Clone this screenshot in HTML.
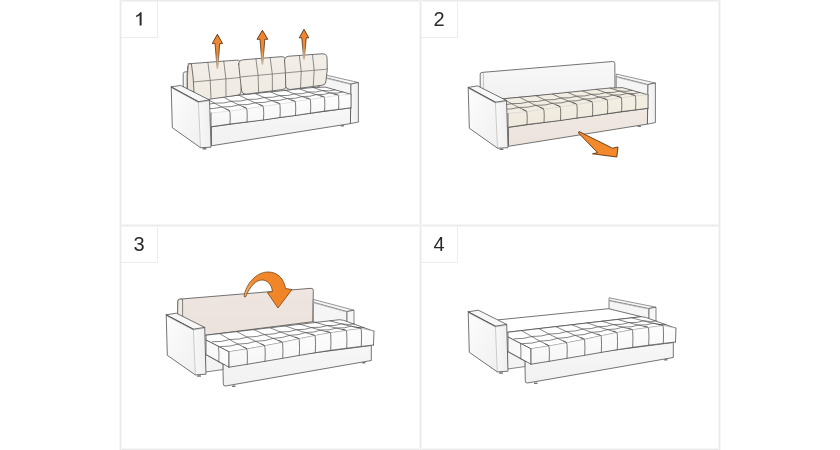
<!DOCTYPE html>
<html><head><meta charset="utf-8">
<style>
html,body{margin:0;padding:0;background:#fff;width:840px;height:450px;overflow:hidden;}
body{position:relative;font-family:"Liberation Sans",sans-serif;}
.g{position:absolute;background:#eaeaea;}
.gv{box-shadow:-1px 0 0 #f6f6f6,1px 0 0 #f6f6f6;}
.gh{box-shadow:0 -1px 0 #f6f6f6,0 1px 0 #f6f6f6;}
.nb{position:absolute;width:37px;height:37px;box-sizing:border-box;border-right:1px solid #ededed;border-bottom:1px solid #ededed;font-size:20px;line-height:37px;text-align:center;color:#2a2a2a;will-change:transform;}
svg{position:absolute;left:0;top:0;}
</style></head><body>
<div class="g gh" style="left:120px;top:0;width:600px;height:1px"></div>
<div class="g gh" style="left:120px;top:225px;width:600px;height:1px"></div>
<div class="g gh" style="left:120px;top:449px;width:600px;height:1px"></div>
<div class="g gv" style="left:120px;top:0;width:1px;height:450px"></div>
<div class="g gv" style="left:420px;top:0;width:1px;height:450px"></div>
<div class="g gv" style="left:719px;top:0;width:1px;height:450px"></div>
<div class="nb" style="left:121px;top:1px"></div>
<div class="nb" style="left:421px;top:1px">2</div>
<div class="nb" style="left:121px;top:226px">3</div>
<div class="nb" style="left:421px;top:226px">4</div>
<svg width="840" height="450" viewBox="0 0 840 450">
<path d="M139.6,25.6 L139.6,15.2 Q138.4,16.4 136.2,17.3 L136.2,15.6 Q138.9,14.3 140.2,12.2 L141.6,12.2 L141.6,25.6 Z" fill="#2a2a2a"/>
<defs>
<linearGradient id="gside" x1="0" y1="0" x2="1" y2="1"><stop offset="0" stop-color="#fdfdfd"/><stop offset="1" stop-color="#f0f0f0"/></linearGradient>
<linearGradient id="gside2" x1="0" y1="0" x2="1" y2="0"><stop offset="0" stop-color="#f7f7f7"/><stop offset="1" stop-color="#fdfdfd"/></linearGradient>
<linearGradient id="gfront" x1="0" y1="0" x2="1" y2="0"><stop offset="0" stop-color="#f8f8f8"/><stop offset="1" stop-color="#efefef"/></linearGradient>
<linearGradient id="gback" x1="0" y1="0" x2="0" y2="1"><stop offset="0" stop-color="#f8f8f8"/><stop offset="1" stop-color="#f1f1f1"/></linearGradient>
<linearGradient id="gbase" x1="0" y1="0" x2="0" y2="1"><stop offset="0" stop-color="#f7f7f7"/><stop offset="1" stop-color="#f1f1f1"/></linearGradient>
<linearGradient id="gbaseb" x1="0" y1="0" x2="0" y2="1"><stop offset="0" stop-color="#f0e8e2"/><stop offset="1" stop-color="#ece3dd"/></linearGradient>
<linearGradient id="gtuft" x1="0" y1="0" x2="0" y2="1"><stop offset="0" stop-color="#fdfdfd"/><stop offset="1" stop-color="#f6f6f6"/></linearGradient>
<linearGradient id="gtuftb" x1="0" y1="0" x2="0" y2="1"><stop offset="0" stop-color="#f4efe4"/><stop offset="1" stop-color="#efe9dc"/></linearGradient>
<linearGradient id="gcush" x1="0" y1="0" x2="0" y2="1"><stop offset="0" stop-color="#f3efe8"/><stop offset="1" stop-color="#efeae2"/></linearGradient>
<linearGradient id="gpanel" x1="0" y1="0" x2="0" y2="1"><stop offset="0" stop-color="#f0e8e2"/><stop offset="0.08" stop-color="#eee5e0"/><stop offset="1" stop-color="#ece2dc"/></linearGradient>
<linearGradient id="gar" x1="0" y1="0" x2="0" y2="1"><stop offset="0" stop-color="#f0832a"/><stop offset="0.6" stop-color="#ee8c3c"/><stop offset="1" stop-color="#e8d0b8"/></linearGradient>
<linearGradient id="garS" x1="0" y1="0" x2="0" y2="1"><stop offset="0" stop-color="#4a2c12"/><stop offset="0.55" stop-color="#6e4a28"/><stop offset="1" stop-color="#c8b8a8"/></linearGradient>
<linearGradient id="gcurve" x1="0" y1="0" x2="1" y2="0"><stop offset="0" stop-color="#f3b27a"/><stop offset="0.2" stop-color="#f08a2c"/><stop offset="1" stop-color="#f08326"/></linearGradient>
</defs>
<path d="M183.20,100.00 L183.20,73.60 Q183.20,72.10 185.00,71.90 L315.50,61.00 Q317.80,60.90 317.80,63.00 L318.00,88.00 Z" fill="url(#gback)" stroke="#505050" stroke-width="0.8" stroke-linejoin="round" stroke-linecap="round" />
<line x1="186.40" y1="73.00" x2="186.40" y2="98.00" stroke="#9a9a9a" stroke-width="0.6" stroke-linecap="round" />
<polygon points="319.20,76.00 351.00,84.00 351.00,95.00 319.20,88.50" fill="#f5f5f5" stroke="#505050" stroke-width="0.7" stroke-linejoin="round" />
<polygon points="319.20,73.50 358.40,82.50 351.00,84.00 319.20,76.00" fill="#f6f6f6" stroke="#505050" stroke-width="0.6" stroke-linejoin="round" />
<line x1="319.20" y1="76.60" x2="351.00" y2="84.60" stroke="#bbb" stroke-width="0.9" stroke-linecap="round" />
<polygon points="351.00,84.00 358.40,82.50 358.40,122.10 350.40,123.60" fill="url(#gfront)" stroke="#505050" stroke-width="0.75" stroke-linejoin="round" />
<polygon points="211.50,126.80 350.60,107.80 350.40,123.60 211.50,145.80" fill="url(#gbase)" stroke="#505050" stroke-width="0.8" stroke-linejoin="round" />
<rect x="340.50" y="125.00" width="3.5" height="1.5" rx="0.5" fill="#777"/>
<polygon points="187.00,99.50 205.77,98.36 222.56,96.72 238.86,95.16 255.16,93.51 270.47,91.90 285.29,90.38 299.22,88.81 313.05,87.54 325.30,87.10 351.00,94.30 338.60,95.30 324.60,97.20 310.50,99.40 295.50,101.60 280.00,103.90 263.50,106.30 247.00,108.60 230.00,111.00 211.00,113.00" fill="#fff" stroke="none" stroke-width="0" stroke-linejoin="round" />
<path d="M187.00,99.50 L205.77,98.36 L222.56,96.72 L238.86,95.16 L255.16,93.51 L270.47,91.90 L285.29,90.38 L299.22,88.81 L313.05,87.54 L325.30,87.10 L351.00,94.30" fill="none" stroke="#505050" stroke-width="0.8" stroke-linejoin="round" stroke-linecap="round" />
<path d="M205.77,98.36 Q217.28,105.08 230.00,111.00" fill="none" stroke="#505050" stroke-width="0.7" stroke-linejoin="round" stroke-linecap="round" />
<path d="M222.56,96.72 Q234.18,103.06 247.00,108.60" fill="none" stroke="#505050" stroke-width="0.7" stroke-linejoin="round" stroke-linecap="round" />
<path d="M238.86,95.16 Q250.58,101.13 263.50,106.30" fill="none" stroke="#505050" stroke-width="0.7" stroke-linejoin="round" stroke-linecap="round" />
<path d="M255.16,93.51 Q266.98,99.10 280.00,103.90" fill="none" stroke="#505050" stroke-width="0.7" stroke-linejoin="round" stroke-linecap="round" />
<path d="M270.47,91.90 Q282.39,97.15 295.50,101.60" fill="none" stroke="#505050" stroke-width="0.7" stroke-linejoin="round" stroke-linecap="round" />
<path d="M285.29,90.38 Q297.30,95.29 310.50,99.40" fill="none" stroke="#505050" stroke-width="0.7" stroke-linejoin="round" stroke-linecap="round" />
<path d="M299.22,88.81 Q311.31,93.41 324.60,97.20" fill="none" stroke="#505050" stroke-width="0.7" stroke-linejoin="round" stroke-linecap="round" />
<path d="M313.05,87.54 Q325.23,91.82 338.60,95.30" fill="none" stroke="#505050" stroke-width="0.7" stroke-linejoin="round" stroke-linecap="round" />
<path d="M196.12,104.63 Q206.35,105.40 214.98,103.16 Q224.21,103.70 231.85,101.23 Q240.84,101.81 248.22,99.39 Q257.21,99.92 264.60,97.46 Q273.09,98.02 279.98,95.59 Q288.23,96.20 294.87,93.81 Q302.67,94.40 308.86,92.00 Q316.61,92.74 322.76,90.49 Q329.71,91.66 335.07,89.84" fill="none" stroke="#505050" stroke-width="0.7" stroke-linejoin="round" stroke-linecap="round" />
<path d="M203.32,108.68 Q213.58,109.32 222.25,106.95 Q231.51,107.38 239.18,104.80 Q248.20,105.27 255.62,102.74 Q264.63,103.15 272.05,100.57 Q280.57,101.04 287.49,98.50 Q295.76,99.00 302.43,96.51 Q310.26,97.01 316.48,94.52 Q324.25,95.17 330.42,92.82 Q337.40,93.91 342.78,92.00" fill="none" stroke="#505050" stroke-width="0.7" stroke-linejoin="round" stroke-linecap="round" />
<polygon points="211.00,113.00 230.00,111.00 247.00,108.60 263.50,106.30 280.00,103.90 295.50,101.60 310.50,99.40 324.60,97.20 338.60,95.30 351.00,94.30 351.00,107.80 338.60,109.40 324.60,111.10 310.50,113.20 295.50,115.50 280.00,117.50 263.50,120.00 247.00,122.00 230.00,124.00 211.00,126.80" fill="url(#gtuft)" stroke="none" stroke-width="0" stroke-linejoin="round" />
<path d="M211.00,113.00 L230.00,111.00 L247.00,108.60 L263.50,106.30 L280.00,103.90 L295.50,101.60 L310.50,99.40 L324.60,97.20 L338.60,95.30 L351.00,94.30" fill="none" stroke="#c4c4c4" stroke-width="0.5" stroke-linejoin="round" stroke-linecap="round" />
<path d="M211.00,126.80 L230.00,124.00 L247.00,122.00 L263.50,120.00 L280.00,117.50 L295.50,115.50 L310.50,113.20 L324.60,111.10 L338.60,109.40 L351.00,107.80" fill="none" stroke="#505050" stroke-width="0.8" stroke-linejoin="round" stroke-linecap="round" />
<path d="M211.00,113.00 L211.00,126.80" fill="none" stroke="#505050" stroke-width="0.8" stroke-linejoin="round" stroke-linecap="round" />
<path d="M351.00,94.30 L351.00,107.80" fill="none" stroke="#505050" stroke-width="0.8" stroke-linejoin="round" stroke-linecap="round" />
<path d="M230.00,124.00 Q230.50,117.50 230.00,112.50 Q230.00,109.80 226.01,108.92" fill="none" stroke="#505050" stroke-width="0.75" stroke-linejoin="round" stroke-linecap="round" />
<path d="M247.00,122.00 Q247.50,115.30 247.00,110.10 Q247.00,107.40 242.95,106.63" fill="none" stroke="#505050" stroke-width="0.75" stroke-linejoin="round" stroke-linecap="round" />
<path d="M263.50,120.00 Q264.00,113.15 263.50,107.80 Q263.50,105.10 259.40,104.45" fill="none" stroke="#505050" stroke-width="0.75" stroke-linejoin="round" stroke-linecap="round" />
<path d="M280.00,117.50 Q280.50,110.70 280.00,105.40 Q280.00,102.70 275.85,102.16" fill="none" stroke="#505050" stroke-width="0.75" stroke-linejoin="round" stroke-linecap="round" />
<path d="M295.50,115.50 Q296.00,108.55 295.50,103.10 Q295.50,100.40 291.30,99.97" fill="none" stroke="#505050" stroke-width="0.75" stroke-linejoin="round" stroke-linecap="round" />
<path d="M310.50,113.20 Q311.00,106.30 310.50,100.90 Q310.50,98.20 306.26,97.88" fill="none" stroke="#505050" stroke-width="0.75" stroke-linejoin="round" stroke-linecap="round" />
<path d="M324.60,111.10 Q325.10,104.15 324.60,98.70 Q324.60,96.00 320.33,95.79" fill="none" stroke="#505050" stroke-width="0.75" stroke-linejoin="round" stroke-linecap="round" />
<path d="M338.60,109.40 Q339.10,102.35 338.60,96.80 Q338.60,94.10 334.29,93.99" fill="none" stroke="#505050" stroke-width="0.75" stroke-linejoin="round" stroke-linecap="round" />
<path d="M187.70,67.80 Q187.80,63.80 192.20,63.50 L236.20,60.20 Q241.00,60.00 241.20,64.00 Q242.40,77.50 241.00,92.00 Q240.60,95.00 237.00,95.30 L196.00,101.20 Q192.00,101.20 191.50,98.00 Q189.00,82.40 187.70,67.80 Z" fill="url(#gcush)" stroke="#585858" stroke-width="0.85" stroke-linejoin="round" stroke-linecap="round" />
<path d="M189.70,82.34 L241.40,77.40" fill="none" stroke="#6a6a6a" stroke-width="0.7" stroke-linejoin="round" stroke-linecap="round" />
<path d="M207.90,62.32 Q211.00,80.50 211.03,98.67" fill="none" stroke="#686868" stroke-width="0.75" stroke-linejoin="round" stroke-linecap="round" />
<path d="M223.80,61.16 Q226.90,79.00 226.02,96.83" fill="none" stroke="#686868" stroke-width="0.75" stroke-linejoin="round" stroke-linecap="round" />
<path d="M238.70,64.10 Q238.80,60.10 243.20,59.80 L281.00,56.70 Q285.80,56.50 286.00,60.50 Q287.20,72.90 286.20,86.30 Q285.80,89.30 282.20,89.60 L246.10,94.20 Q242.10,94.20 241.60,91.00 Q240.00,77.05 238.70,64.10 Z" fill="url(#gcush)" stroke="#585858" stroke-width="0.85" stroke-linejoin="round" stroke-linecap="round" />
<path d="M240.70,76.93 L286.20,72.76" fill="none" stroke="#6a6a6a" stroke-width="0.7" stroke-linejoin="round" stroke-linecap="round" />
<path d="M255.90,58.75 Q259.00,75.49 258.66,92.23" fill="none" stroke="#686868" stroke-width="0.75" stroke-linejoin="round" stroke-linecap="round" />
<path d="M270.20,57.62 Q273.30,74.20 272.43,90.77" fill="none" stroke="#686868" stroke-width="0.75" stroke-linejoin="round" stroke-linecap="round" />
<path d="M284.50,60.50 Q284.60,56.50 289.00,56.20 L322.00,53.80 Q326.80,53.60 327.00,57.60 Q328.20,69.30 325.80,82.00 Q325.40,85.00 321.80,85.30 L290.20,89.50 Q286.20,89.50 285.70,86.30 Q285.80,72.90 284.50,60.50 Z" fill="url(#gcush)" stroke="#585858" stroke-width="0.85" stroke-linejoin="round" stroke-linecap="round" />
<path d="M286.50,72.76 L327.20,69.13" fill="none" stroke="#6a6a6a" stroke-width="0.7" stroke-linejoin="round" stroke-linecap="round" />
<path d="M299.40,55.45 Q302.50,71.59 300.59,87.74" fill="none" stroke="#686868" stroke-width="0.75" stroke-linejoin="round" stroke-linecap="round" />
<path d="M312.50,54.52 Q315.60,70.44 313.24,86.36" fill="none" stroke="#686868" stroke-width="0.75" stroke-linejoin="round" stroke-linecap="round" />
<path d="M188.20,64.00 Q187.00,76.00 187.50,90.00 L194.00,92.00 Q193.50,76.00 191.50,64.20 Z" fill="#ece6db" stroke="#505050" stroke-width="0.8" stroke-linejoin="round" stroke-linecap="round" />
<polygon points="171.20,86.90 198.40,101.70 200.50,147.70 172.30,127.70" fill="url(#gside)" stroke="none" stroke-width="0" stroke-linejoin="round" />
<polygon points="198.40,101.70 209.50,100.00 211.00,147.20 200.50,147.70" fill="url(#gfront)" stroke="none" stroke-width="0" stroke-linejoin="round" />
<polygon points="171.20,86.90 180.60,85.40 209.50,100.00 198.40,101.70" fill="#f7f7f7" stroke="none" stroke-width="0" stroke-linejoin="round" />
<path d="M198.40,101.70 L200.50,147.70" fill="none" stroke="#b8b8b8" stroke-width="0.7" stroke-linejoin="round" stroke-linecap="round" />
<line x1="171.50" y1="88.00" x2="198.40" y2="102.60" stroke="#c4c4c4" stroke-width="0.9" stroke-linecap="round" />
<line x1="198.40" y1="102.60" x2="209.50" y2="100.90" stroke="#d0d0d0" stroke-width="0.9" stroke-linecap="round" />
<path d="M171.20,86.90 L198.40,101.70 L209.50,100.00" fill="none" stroke="#505050" stroke-width="0.85" stroke-linejoin="round" stroke-linecap="round" />
<path d="M198.40,101.70 L171.20,86.90 L180.60,85.40 L209.50,100.00 L211.00,147.20 L200.50,147.70 L172.30,127.70 L171.20,86.90" fill="none" stroke="#505050" stroke-width="0.8" stroke-linejoin="round" stroke-linecap="round" />
<rect x="202.50" y="147.90" width="4" height="1.6" rx="0.6" fill="#777"/>
<polygon points="217.40,34.30 222.60,43.60 219.70,43.60 217.80,68.60 217.00,68.60 215.10,43.60 212.20,43.60" fill="url(#gar)" stroke="url(#garS)" stroke-width="0.9" stroke-linejoin="round"/>
<polygon points="262.40,30.30 267.80,39.30 264.80,39.30 262.80,64.30 262.00,64.30 260.00,39.30 257.00,39.30" fill="url(#gar)" stroke="url(#garS)" stroke-width="0.9" stroke-linejoin="round"/>
<polygon points="304.00,29.30 308.80,37.90 306.20,37.90 304.40,59.30 303.60,59.30 301.80,37.90 299.20,37.90" fill="url(#gar)" stroke="url(#garS)" stroke-width="0.9" stroke-linejoin="round"/>
<path d="M480.20,100.50 L480.20,74.10 Q480.20,72.60 482.00,72.40 L612.50,61.50 Q614.80,61.40 614.80,63.50 L615.00,88.50 Z" fill="url(#gback)" stroke="#505050" stroke-width="0.8" stroke-linejoin="round" stroke-linecap="round" />
<line x1="483.40" y1="73.50" x2="483.40" y2="98.50" stroke="#9a9a9a" stroke-width="0.6" stroke-linecap="round" />
<polygon points="616.20,76.50 648.00,84.50 648.00,95.50 616.20,89.00" fill="#f5f5f5" stroke="#505050" stroke-width="0.7" stroke-linejoin="round" />
<polygon points="616.20,74.00 655.40,83.00 648.00,84.50 616.20,76.50" fill="#f6f6f6" stroke="#505050" stroke-width="0.6" stroke-linejoin="round" />
<line x1="616.20" y1="77.10" x2="648.00" y2="85.10" stroke="#bbb" stroke-width="0.9" stroke-linecap="round" />
<polygon points="648.00,84.50 655.40,83.00 655.40,122.60 647.40,124.10" fill="url(#gfront)" stroke="#505050" stroke-width="0.75" stroke-linejoin="round" />
<polygon points="508.50,127.30 647.60,108.30 647.40,124.10 508.50,146.30" fill="url(#gbaseb)" stroke="#505050" stroke-width="0.8" stroke-linejoin="round" />
<rect x="637.50" y="125.50" width="3.5" height="1.5" rx="0.5" fill="#777"/>
<polygon points="484.00,100.00 502.77,98.86 519.56,97.22 535.86,95.66 552.16,94.01 567.47,92.40 582.29,90.88 596.22,89.31 610.05,88.04 622.30,87.60 648.00,94.80 635.60,95.80 621.60,97.70 607.50,99.90 592.50,102.10 577.00,104.40 560.50,106.80 544.00,109.10 527.00,111.50 508.00,113.50" fill="#f2ede2" stroke="none" stroke-width="0" stroke-linejoin="round" />
<path d="M484.00,100.00 L502.77,98.86 L519.56,97.22 L535.86,95.66 L552.16,94.01 L567.47,92.40 L582.29,90.88 L596.22,89.31 L610.05,88.04 L622.30,87.60 L648.00,94.80" fill="none" stroke="#505050" stroke-width="0.8" stroke-linejoin="round" stroke-linecap="round" />
<path d="M502.77,98.86 Q514.28,105.58 527.00,111.50" fill="none" stroke="#505050" stroke-width="0.7" stroke-linejoin="round" stroke-linecap="round" />
<path d="M519.56,97.22 Q531.18,103.56 544.00,109.10" fill="none" stroke="#505050" stroke-width="0.7" stroke-linejoin="round" stroke-linecap="round" />
<path d="M535.86,95.66 Q547.58,101.63 560.50,106.80" fill="none" stroke="#505050" stroke-width="0.7" stroke-linejoin="round" stroke-linecap="round" />
<path d="M552.16,94.01 Q563.98,99.60 577.00,104.40" fill="none" stroke="#505050" stroke-width="0.7" stroke-linejoin="round" stroke-linecap="round" />
<path d="M567.47,92.40 Q579.39,97.65 592.50,102.10" fill="none" stroke="#505050" stroke-width="0.7" stroke-linejoin="round" stroke-linecap="round" />
<path d="M582.29,90.88 Q594.30,95.79 607.50,99.90" fill="none" stroke="#505050" stroke-width="0.7" stroke-linejoin="round" stroke-linecap="round" />
<path d="M596.22,89.31 Q608.31,93.91 621.60,97.70" fill="none" stroke="#505050" stroke-width="0.7" stroke-linejoin="round" stroke-linecap="round" />
<path d="M610.05,88.04 Q622.23,92.32 635.60,95.80" fill="none" stroke="#505050" stroke-width="0.7" stroke-linejoin="round" stroke-linecap="round" />
<path d="M493.12,105.13 Q503.35,105.90 511.98,103.66 Q521.21,104.20 528.85,101.73 Q537.84,102.31 545.22,99.89 Q554.21,100.42 561.60,97.96 Q570.09,98.52 576.98,96.09 Q585.23,96.70 591.87,94.31 Q599.67,94.90 605.86,92.50 Q613.61,93.24 619.76,90.99 Q626.71,92.16 632.07,90.34" fill="none" stroke="#505050" stroke-width="0.7" stroke-linejoin="round" stroke-linecap="round" />
<path d="M500.32,109.18 Q510.58,109.82 519.25,107.45 Q528.51,107.88 536.18,105.30 Q545.20,105.77 552.62,103.24 Q561.63,103.65 569.05,101.07 Q577.57,101.54 584.49,99.00 Q592.76,99.50 599.43,97.01 Q607.26,97.51 613.48,95.02 Q621.25,95.67 627.42,93.32 Q634.40,94.41 639.78,92.50" fill="none" stroke="#505050" stroke-width="0.7" stroke-linejoin="round" stroke-linecap="round" />
<polygon points="508.00,113.50 527.00,111.50 544.00,109.10 560.50,106.80 577.00,104.40 592.50,102.10 607.50,99.90 621.60,97.70 635.60,95.80 648.00,94.80 648.00,108.30 635.60,109.90 621.60,111.60 607.50,113.70 592.50,116.00 577.00,118.00 560.50,120.50 544.00,122.50 527.00,124.50 508.00,127.30" fill="url(#gtuftb)" stroke="none" stroke-width="0" stroke-linejoin="round" />
<path d="M508.00,113.50 L527.00,111.50 L544.00,109.10 L560.50,106.80 L577.00,104.40 L592.50,102.10 L607.50,99.90 L621.60,97.70 L635.60,95.80 L648.00,94.80" fill="none" stroke="#c4c4c4" stroke-width="0.5" stroke-linejoin="round" stroke-linecap="round" />
<path d="M508.00,127.30 L527.00,124.50 L544.00,122.50 L560.50,120.50 L577.00,118.00 L592.50,116.00 L607.50,113.70 L621.60,111.60 L635.60,109.90 L648.00,108.30" fill="none" stroke="#505050" stroke-width="0.8" stroke-linejoin="round" stroke-linecap="round" />
<path d="M508.00,113.50 L508.00,127.30" fill="none" stroke="#505050" stroke-width="0.8" stroke-linejoin="round" stroke-linecap="round" />
<path d="M648.00,94.80 L648.00,108.30" fill="none" stroke="#505050" stroke-width="0.8" stroke-linejoin="round" stroke-linecap="round" />
<path d="M527.00,124.50 Q527.50,118.00 527.00,113.00 Q527.00,110.30 523.01,109.42" fill="none" stroke="#505050" stroke-width="0.75" stroke-linejoin="round" stroke-linecap="round" />
<path d="M544.00,122.50 Q544.50,115.80 544.00,110.60 Q544.00,107.90 539.95,107.13" fill="none" stroke="#505050" stroke-width="0.75" stroke-linejoin="round" stroke-linecap="round" />
<path d="M560.50,120.50 Q561.00,113.65 560.50,108.30 Q560.50,105.60 556.40,104.95" fill="none" stroke="#505050" stroke-width="0.75" stroke-linejoin="round" stroke-linecap="round" />
<path d="M577.00,118.00 Q577.50,111.20 577.00,105.90 Q577.00,103.20 572.85,102.66" fill="none" stroke="#505050" stroke-width="0.75" stroke-linejoin="round" stroke-linecap="round" />
<path d="M592.50,116.00 Q593.00,109.05 592.50,103.60 Q592.50,100.90 588.30,100.47" fill="none" stroke="#505050" stroke-width="0.75" stroke-linejoin="round" stroke-linecap="round" />
<path d="M607.50,113.70 Q608.00,106.80 607.50,101.40 Q607.50,98.70 603.26,98.38" fill="none" stroke="#505050" stroke-width="0.75" stroke-linejoin="round" stroke-linecap="round" />
<path d="M621.60,111.60 Q622.10,104.65 621.60,99.20 Q621.60,96.50 617.33,96.29" fill="none" stroke="#505050" stroke-width="0.75" stroke-linejoin="round" stroke-linecap="round" />
<path d="M635.60,109.90 Q636.10,102.85 635.60,97.30 Q635.60,94.60 631.29,94.49" fill="none" stroke="#505050" stroke-width="0.75" stroke-linejoin="round" stroke-linecap="round" />
<polygon points="468.20,87.40 495.40,102.20 497.50,148.20 469.30,128.20" fill="url(#gside)" stroke="none" stroke-width="0" stroke-linejoin="round" />
<polygon points="495.40,102.20 506.50,100.50 508.00,147.70 497.50,148.20" fill="url(#gfront)" stroke="none" stroke-width="0" stroke-linejoin="round" />
<polygon points="468.20,87.40 477.60,85.90 506.50,100.50 495.40,102.20" fill="#f7f7f7" stroke="none" stroke-width="0" stroke-linejoin="round" />
<path d="M495.40,102.20 L497.50,148.20" fill="none" stroke="#b8b8b8" stroke-width="0.7" stroke-linejoin="round" stroke-linecap="round" />
<line x1="468.50" y1="88.50" x2="495.40" y2="103.10" stroke="#c4c4c4" stroke-width="0.9" stroke-linecap="round" />
<line x1="495.40" y1="103.10" x2="506.50" y2="101.40" stroke="#d0d0d0" stroke-width="0.9" stroke-linecap="round" />
<path d="M468.20,87.40 L495.40,102.20 L506.50,100.50" fill="none" stroke="#505050" stroke-width="0.85" stroke-linejoin="round" stroke-linecap="round" />
<path d="M495.40,102.20 L468.20,87.40 L477.60,85.90 L506.50,100.50 L508.00,147.70 L497.50,148.20 L469.30,128.20 L468.20,87.40" fill="none" stroke="#505050" stroke-width="0.8" stroke-linejoin="round" stroke-linecap="round" />
<rect x="499.50" y="148.40" width="4" height="1.6" rx="0.6" fill="#777"/>
<polygon points="579.00,131.50 612.50,148.20 618.00,147.00 616.80,157.00 592.50,153.80 597.50,152.60 578.50,133.00" fill="#f28a2c" stroke="#5e3412" stroke-width="0.9" stroke-linejoin="round"/>
<path d="M177.90,345.00 L177.90,301.00 Q177.90,299.20 180.00,299.10 L311.00,288.30 Q313.30,288.20 313.30,290.50 L312.80,321.70 L206.00,335.20 Z" fill="url(#gpanel)" stroke="#505050" stroke-width="0.8" stroke-linejoin="round" stroke-linecap="round" />
<path d="M177.90,301.00 Q177.90,299.20 180.00,299.10 L182.60,299.30 L182.60,320.00 L177.90,320.00 Z" fill="#f0ebdf" stroke="#505050" stroke-width="0.7" stroke-linejoin="round" stroke-linecap="round" />
<polygon points="313.30,302.20 347.00,311.50 347.00,326.00 313.30,322.00" fill="#f5f5f5" stroke="#505050" stroke-width="0.7" stroke-linejoin="round" />
<polygon points="313.30,299.40 354.00,310.20 347.00,311.50 313.30,302.20" fill="#f6f6f6" stroke="#505050" stroke-width="0.6" stroke-linejoin="round" />
<line x1="313.30" y1="302.80" x2="347.00" y2="312.10" stroke="#bbb" stroke-width="0.9" stroke-linecap="round" />
<polygon points="347.00,311.50 354.00,310.20 354.00,326.00 347.00,327.00" fill="#f7f7f7" stroke="#505050" stroke-width="0.7" stroke-linejoin="round" />
<polygon points="205.50,354.50 223.50,364.50 223.50,369.50 205.50,372.00" fill="#f3f3f3" stroke="#505050" stroke-width="0.7" stroke-linejoin="round" />
<path d="M223.30,364.50 L371.30,345.50 L371.30,360.50 L225.50,386.00 Q223.30,386.20 223.30,384.00 Z" fill="url(#gbase)" stroke="#505050" stroke-width="0.8" stroke-linejoin="round" stroke-linecap="round" />
<rect x="232.00" y="385.60" width="3.5" height="1.5" rx="0.5" fill="#777"/>
<rect x="362.00" y="362.00" width="3.5" height="1.5" rx="0.5" fill="#777"/>
<polygon points="206.00,335.20 339.30,319.70 343.50,320.30 374.00,331.30 374.00,331.30 361.30,328.60 346.70,330.60 330.70,332.80 315.30,335.60 299.30,338.80 282.70,342.40 265.00,345.80 247.20,349.00 229.00,351.80 206.00,340.00" fill="#fff" stroke="#505050" stroke-width="0.8" stroke-linejoin="round" />
<path d="M219.57,333.62 Q232.79,341.71 247.20,349.00" fill="none" stroke="#505050" stroke-width="0.7" stroke-linejoin="round" stroke-linecap="round" />
<path d="M236.76,331.62 Q250.28,339.11 265.00,345.80" fill="none" stroke="#505050" stroke-width="0.7" stroke-linejoin="round" stroke-linecap="round" />
<path d="M253.85,329.64 Q267.67,336.42 282.70,342.40" fill="none" stroke="#505050" stroke-width="0.7" stroke-linejoin="round" stroke-linecap="round" />
<path d="M269.88,327.77 Q283.99,333.69 299.30,338.80" fill="none" stroke="#505050" stroke-width="0.7" stroke-linejoin="round" stroke-linecap="round" />
<path d="M285.32,325.97 Q299.71,331.19 315.30,335.60" fill="none" stroke="#505050" stroke-width="0.7" stroke-linejoin="round" stroke-linecap="round" />
<path d="M300.19,324.25 Q314.85,328.92 330.70,332.80" fill="none" stroke="#505050" stroke-width="0.7" stroke-linejoin="round" stroke-linecap="round" />
<path d="M315.64,322.45 Q330.57,326.92 346.70,330.60" fill="none" stroke="#505050" stroke-width="0.7" stroke-linejoin="round" stroke-linecap="round" />
<path d="M329.74,320.81 Q344.92,325.10 361.30,328.60" fill="none" stroke="#505050" stroke-width="0.7" stroke-linejoin="round" stroke-linecap="round" />
<path d="M212.26,341.80 Q221.97,342.13 230.07,339.47 Q239.58,339.74 247.49,337.01 Q256.95,337.25 264.81,334.49 Q273.73,334.72 281.06,331.96 Q289.69,332.30 296.71,329.63 Q305.05,330.06 311.79,327.50 Q320.41,328.02 327.44,325.55 Q335.39,326.16 341.73,323.77 Q348.75,325.34 354.16,323.91" fill="none" stroke="#505050" stroke-width="0.7" stroke-linejoin="round" stroke-linecap="round" />
<path d="M220.36,346.64 Q230.16,346.86 238.36,344.08 Q247.96,344.17 255.96,341.26 Q265.52,341.29 273.47,338.32 Q282.48,338.29 289.88,335.27 Q298.60,335.40 305.71,332.52 Q314.12,332.79 320.94,330.06 Q329.65,330.53 336.76,327.99 Q344.78,328.55 351.20,326.11 Q358.28,328.30 363.76,327.49" fill="none" stroke="#505050" stroke-width="0.7" stroke-linejoin="round" stroke-linecap="round" />
<polygon points="206.00,340.00 229.00,351.80 229.00,367.20 206.00,354.50" fill="url(#gside2)" stroke="#505050" stroke-width="0.8" stroke-linejoin="round" />
<path d="M218.50,346.30 Q219.30,354.00 218.80,361.80" fill="none" stroke="#505050" stroke-width="0.7" stroke-linejoin="round" stroke-linecap="round" />
<polygon points="229.00,351.80 247.20,349.00 265.00,345.80 282.70,342.40 299.30,338.80 315.30,335.60 330.70,332.80 346.70,330.60 361.30,328.60 374.00,331.30 373.50,345.00 361.30,346.40 346.70,348.20 330.70,350.30 315.30,352.70 299.30,355.40 282.70,358.30 265.00,361.30 247.20,364.30 229.00,367.20" fill="url(#gtuft)" stroke="none" stroke-width="0" stroke-linejoin="round" />
<path d="M229.00,351.80 L247.20,349.00 L265.00,345.80 L282.70,342.40 L299.30,338.80 L315.30,335.60 L330.70,332.80 L346.70,330.60 L361.30,328.60 L374.00,331.30" fill="none" stroke="#c4c4c4" stroke-width="0.5" stroke-linejoin="round" stroke-linecap="round" />
<path d="M229.00,367.20 L247.20,364.30 L265.00,361.30 L282.70,358.30 L299.30,355.40 L315.30,352.70 L330.70,350.30 L346.70,348.20 L361.30,346.40 L373.50,345.00" fill="none" stroke="#505050" stroke-width="0.8" stroke-linejoin="round" stroke-linecap="round" />
<path d="M229.00,351.80 L229.00,367.20" fill="none" stroke="#505050" stroke-width="0.8" stroke-linejoin="round" stroke-linecap="round" />
<path d="M374.00,331.30 L373.50,345.00" fill="none" stroke="#505050" stroke-width="0.8" stroke-linejoin="round" stroke-linecap="round" />
<path d="M247.20,364.30 Q247.70,356.65 247.20,350.50 Q247.20,347.80 243.27,346.81" fill="none" stroke="#505050" stroke-width="0.75" stroke-linejoin="round" stroke-linecap="round" />
<path d="M265.00,361.30 Q265.50,353.55 265.00,347.30 Q265.00,344.60 260.98,343.78" fill="none" stroke="#505050" stroke-width="0.75" stroke-linejoin="round" stroke-linecap="round" />
<path d="M282.70,358.30 Q283.20,350.35 282.70,343.90 Q282.70,341.20 278.58,340.58" fill="none" stroke="#505050" stroke-width="0.75" stroke-linejoin="round" stroke-linecap="round" />
<path d="M299.30,355.40 Q299.80,347.10 299.30,340.30 Q299.30,337.60 295.09,337.22" fill="none" stroke="#505050" stroke-width="0.75" stroke-linejoin="round" stroke-linecap="round" />
<path d="M315.30,352.70 Q315.80,344.15 315.30,337.10 Q315.30,334.40 311.02,334.22" fill="none" stroke="#505050" stroke-width="0.75" stroke-linejoin="round" stroke-linecap="round" />
<path d="M330.70,350.30 Q331.20,341.55 330.70,334.30 Q330.70,331.60 326.37,331.58" fill="none" stroke="#505050" stroke-width="0.75" stroke-linejoin="round" stroke-linecap="round" />
<path d="M346.70,348.20 Q347.20,339.40 346.70,332.10 Q346.70,329.40 342.35,329.46" fill="none" stroke="#505050" stroke-width="0.75" stroke-linejoin="round" stroke-linecap="round" />
<path d="M361.30,346.40 Q361.80,337.50 361.30,330.10 Q361.30,327.40 356.93,327.52" fill="none" stroke="#505050" stroke-width="0.75" stroke-linejoin="round" stroke-linecap="round" />
<polygon points="166.20,314.80 193.40,329.20 195.30,374.90 167.30,355.30" fill="url(#gside)" stroke="none" stroke-width="0" stroke-linejoin="round" />
<polygon points="193.40,329.20 204.70,327.40 206.00,374.20 195.30,374.90" fill="url(#gfront)" stroke="none" stroke-width="0" stroke-linejoin="round" />
<polygon points="166.20,314.80 176.30,313.20 204.70,327.40 193.40,329.20" fill="#f7f7f7" stroke="none" stroke-width="0" stroke-linejoin="round" />
<path d="M193.40,329.20 L195.30,374.90" fill="none" stroke="#b8b8b8" stroke-width="0.7" stroke-linejoin="round" stroke-linecap="round" />
<line x1="166.50" y1="315.90" x2="193.40" y2="330.10" stroke="#c4c4c4" stroke-width="0.9" stroke-linecap="round" />
<line x1="193.40" y1="330.10" x2="204.70" y2="328.30" stroke="#d0d0d0" stroke-width="0.9" stroke-linecap="round" />
<path d="M166.20,314.80 L193.40,329.20 L204.70,327.40" fill="none" stroke="#505050" stroke-width="0.85" stroke-linejoin="round" stroke-linecap="round" />
<path d="M193.40,329.20 L166.20,314.80 L176.30,313.20 L204.70,327.40 L206.00,374.20 L195.30,374.90 L167.30,355.30 L166.20,314.80" fill="none" stroke="#505050" stroke-width="0.8" stroke-linejoin="round" stroke-linecap="round" />
<rect x="197.00" y="375.20" width="4" height="1.6" rx="0.6" fill="#777"/>
<path d="M244,296.5 C246,284 256,272 268,272 C278,272 284,279 285.5,288.5 L292,289.5 L278,308 L267.3,292.5 L272.5,291.5 C271.5,284 267,280 262,280 C256,280 250,286 245.5,297 Z" fill="url(#gcurve)" stroke="#7a4418" stroke-width="0.8" stroke-linejoin="round"/>
<polygon points="609.00,300.30 649.00,308.50 649.00,323.00 609.00,319.00" fill="#f5f5f5" stroke="#505050" stroke-width="0.7" stroke-linejoin="round" />
<polygon points="609.00,297.80 656.00,307.20 649.00,308.50 609.00,300.30" fill="#f6f6f6" stroke="#505050" stroke-width="0.6" stroke-linejoin="round" />
<line x1="609.00" y1="300.90" x2="649.00" y2="309.10" stroke="#bbb" stroke-width="0.9" stroke-linecap="round" />
<polygon points="649.00,308.50 656.00,307.20 656.00,323.00 649.00,324.00" fill="#f7f7f7" stroke="#505050" stroke-width="0.7" stroke-linejoin="round" />
<polygon points="497.90,319.90 608.60,308.70 641.30,316.70 508.00,332.20 498.00,333.50" fill="#fff" stroke="#505050" stroke-width="0.8" stroke-linejoin="round" />
<polygon points="507.50,351.50 525.50,361.50 525.50,366.50 507.50,369.00" fill="#f3f3f3" stroke="#505050" stroke-width="0.7" stroke-linejoin="round" />
<path d="M525.30,361.50 L673.30,342.50 L673.30,357.50 L527.50,383.00 Q525.30,383.20 525.30,381.00 Z" fill="url(#gbase)" stroke="#505050" stroke-width="0.8" stroke-linejoin="round" stroke-linecap="round" />
<rect x="534.00" y="382.60" width="3.5" height="1.5" rx="0.5" fill="#777"/>
<rect x="664.00" y="359.00" width="3.5" height="1.5" rx="0.5" fill="#777"/>
<polygon points="508.00,332.20 641.30,316.70 645.50,317.30 676.00,328.30 676.00,328.30 663.30,325.60 648.70,327.60 632.70,329.80 617.30,332.60 601.30,335.80 584.70,339.40 567.00,342.80 549.20,346.00 531.00,348.80 508.00,337.00" fill="#fff" stroke="#505050" stroke-width="0.8" stroke-linejoin="round" />
<path d="M521.57,330.62 Q534.79,338.71 549.20,346.00" fill="none" stroke="#505050" stroke-width="0.7" stroke-linejoin="round" stroke-linecap="round" />
<path d="M538.76,328.62 Q552.28,336.11 567.00,342.80" fill="none" stroke="#505050" stroke-width="0.7" stroke-linejoin="round" stroke-linecap="round" />
<path d="M555.85,326.64 Q569.67,333.42 584.70,339.40" fill="none" stroke="#505050" stroke-width="0.7" stroke-linejoin="round" stroke-linecap="round" />
<path d="M571.88,324.77 Q585.99,330.69 601.30,335.80" fill="none" stroke="#505050" stroke-width="0.7" stroke-linejoin="round" stroke-linecap="round" />
<path d="M587.32,322.97 Q601.71,328.19 617.30,332.60" fill="none" stroke="#505050" stroke-width="0.7" stroke-linejoin="round" stroke-linecap="round" />
<path d="M602.19,321.25 Q616.85,325.92 632.70,329.80" fill="none" stroke="#505050" stroke-width="0.7" stroke-linejoin="round" stroke-linecap="round" />
<path d="M617.64,319.45 Q632.57,323.92 648.70,327.60" fill="none" stroke="#505050" stroke-width="0.7" stroke-linejoin="round" stroke-linecap="round" />
<path d="M631.74,317.81 Q646.92,322.10 663.30,325.60" fill="none" stroke="#505050" stroke-width="0.7" stroke-linejoin="round" stroke-linecap="round" />
<path d="M514.26,338.80 Q523.97,339.13 532.07,336.47 Q541.58,336.74 549.49,334.01 Q558.95,334.25 566.81,331.49 Q575.73,331.72 583.06,328.96 Q591.69,329.30 598.71,326.63 Q607.05,327.06 613.79,324.50 Q622.41,325.02 629.44,322.55 Q637.39,323.16 643.73,320.77 Q650.75,322.34 656.16,320.91" fill="none" stroke="#505050" stroke-width="0.7" stroke-linejoin="round" stroke-linecap="round" />
<path d="M522.36,343.64 Q532.16,343.86 540.36,341.08 Q549.96,341.17 557.96,338.26 Q567.52,338.29 575.47,335.32 Q584.48,335.29 591.88,332.27 Q600.60,332.40 607.71,329.52 Q616.12,329.79 622.94,327.06 Q631.65,327.53 638.76,324.99 Q646.78,325.55 653.20,323.11 Q660.28,325.30 665.76,324.49" fill="none" stroke="#505050" stroke-width="0.7" stroke-linejoin="round" stroke-linecap="round" />
<polygon points="508.00,337.00 531.00,348.80 531.00,364.20 508.00,351.50" fill="url(#gside2)" stroke="#505050" stroke-width="0.8" stroke-linejoin="round" />
<path d="M520.50,343.30 Q521.30,351.00 520.80,358.80" fill="none" stroke="#505050" stroke-width="0.7" stroke-linejoin="round" stroke-linecap="round" />
<polygon points="531.00,348.80 549.20,346.00 567.00,342.80 584.70,339.40 601.30,335.80 617.30,332.60 632.70,329.80 648.70,327.60 663.30,325.60 676.00,328.30 675.50,342.00 663.30,343.40 648.70,345.20 632.70,347.30 617.30,349.70 601.30,352.40 584.70,355.30 567.00,358.30 549.20,361.30 531.00,364.20" fill="url(#gtuft)" stroke="none" stroke-width="0" stroke-linejoin="round" />
<path d="M531.00,348.80 L549.20,346.00 L567.00,342.80 L584.70,339.40 L601.30,335.80 L617.30,332.60 L632.70,329.80 L648.70,327.60 L663.30,325.60 L676.00,328.30" fill="none" stroke="#c4c4c4" stroke-width="0.5" stroke-linejoin="round" stroke-linecap="round" />
<path d="M531.00,364.20 L549.20,361.30 L567.00,358.30 L584.70,355.30 L601.30,352.40 L617.30,349.70 L632.70,347.30 L648.70,345.20 L663.30,343.40 L675.50,342.00" fill="none" stroke="#505050" stroke-width="0.8" stroke-linejoin="round" stroke-linecap="round" />
<path d="M531.00,348.80 L531.00,364.20" fill="none" stroke="#505050" stroke-width="0.8" stroke-linejoin="round" stroke-linecap="round" />
<path d="M676.00,328.30 L675.50,342.00" fill="none" stroke="#505050" stroke-width="0.8" stroke-linejoin="round" stroke-linecap="round" />
<path d="M549.20,361.30 Q549.70,353.65 549.20,347.50 Q549.20,344.80 545.27,343.81" fill="none" stroke="#505050" stroke-width="0.75" stroke-linejoin="round" stroke-linecap="round" />
<path d="M567.00,358.30 Q567.50,350.55 567.00,344.30 Q567.00,341.60 562.98,340.78" fill="none" stroke="#505050" stroke-width="0.75" stroke-linejoin="round" stroke-linecap="round" />
<path d="M584.70,355.30 Q585.20,347.35 584.70,340.90 Q584.70,338.20 580.58,337.58" fill="none" stroke="#505050" stroke-width="0.75" stroke-linejoin="round" stroke-linecap="round" />
<path d="M601.30,352.40 Q601.80,344.10 601.30,337.30 Q601.30,334.60 597.09,334.22" fill="none" stroke="#505050" stroke-width="0.75" stroke-linejoin="round" stroke-linecap="round" />
<path d="M617.30,349.70 Q617.80,341.15 617.30,334.10 Q617.30,331.40 613.02,331.22" fill="none" stroke="#505050" stroke-width="0.75" stroke-linejoin="round" stroke-linecap="round" />
<path d="M632.70,347.30 Q633.20,338.55 632.70,331.30 Q632.70,328.60 628.37,328.58" fill="none" stroke="#505050" stroke-width="0.75" stroke-linejoin="round" stroke-linecap="round" />
<path d="M648.70,345.20 Q649.20,336.40 648.70,329.10 Q648.70,326.40 644.35,326.46" fill="none" stroke="#505050" stroke-width="0.75" stroke-linejoin="round" stroke-linecap="round" />
<path d="M663.30,343.40 Q663.80,334.50 663.30,327.10 Q663.30,324.40 658.93,324.52" fill="none" stroke="#505050" stroke-width="0.75" stroke-linejoin="round" stroke-linecap="round" />
<polygon points="468.20,311.80 495.40,326.20 497.30,371.90 469.30,352.30" fill="url(#gside)" stroke="none" stroke-width="0" stroke-linejoin="round" />
<polygon points="495.40,326.20 506.70,324.40 508.00,371.20 497.30,371.90" fill="url(#gfront)" stroke="none" stroke-width="0" stroke-linejoin="round" />
<polygon points="468.20,311.80 478.30,310.20 506.70,324.40 495.40,326.20" fill="#f7f7f7" stroke="none" stroke-width="0" stroke-linejoin="round" />
<path d="M495.40,326.20 L497.30,371.90" fill="none" stroke="#b8b8b8" stroke-width="0.7" stroke-linejoin="round" stroke-linecap="round" />
<line x1="468.50" y1="312.90" x2="495.40" y2="327.10" stroke="#c4c4c4" stroke-width="0.9" stroke-linecap="round" />
<line x1="495.40" y1="327.10" x2="506.70" y2="325.30" stroke="#d0d0d0" stroke-width="0.9" stroke-linecap="round" />
<path d="M468.20,311.80 L495.40,326.20 L506.70,324.40" fill="none" stroke="#505050" stroke-width="0.85" stroke-linejoin="round" stroke-linecap="round" />
<path d="M495.40,326.20 L468.20,311.80 L478.30,310.20 L506.70,324.40 L508.00,371.20 L497.30,371.90 L469.30,352.30 L468.20,311.80" fill="none" stroke="#505050" stroke-width="0.8" stroke-linejoin="round" stroke-linecap="round" />
<rect x="499.00" y="372.20" width="4" height="1.6" rx="0.6" fill="#777"/>
</svg>
</body></html>
